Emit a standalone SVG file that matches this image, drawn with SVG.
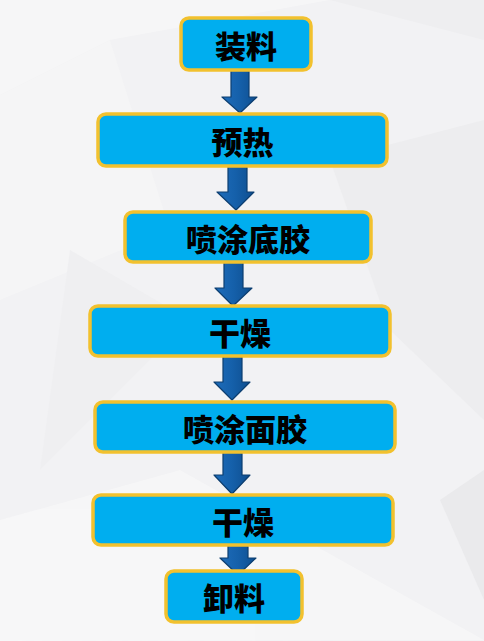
<svg xmlns="http://www.w3.org/2000/svg" width="484" height="641" viewBox="0 0 484 641">
<defs>
<linearGradient id="ag" x1="0" y1="0" x2="1" y2="0">
<stop offset="0" stop-color="#1E6CBA"/>
<stop offset="0.5" stop-color="#1560AA"/>
<stop offset="1" stop-color="#0E4E8F"/>
</linearGradient>
<style>
.box{fill:#00AEEF;stroke:#F2C12E;stroke-width:3.5}
.lbl{font-family:"Noto Sans CJK SC","Noto Sans",sans-serif;font-weight:900;font-size:31px;fill:#000;text-anchor:middle;dominant-baseline:central}
.arr{fill:url(#ag);stroke:#0C3E70;stroke-width:1.2;stroke-linejoin:round}
</style>
</defs>
<rect x="0" y="0" width="484" height="641" fill="#F2F2F4"/>
<g id="bg" opacity="0.9">
<polygon points="0,0 330,0 110,40 0,95" fill="#F7F7F8"/>
<polygon points="330,0 484,0 484,40" fill="#EEEEF0"/>
<polygon points="0,95 110,40 170,230 0,300" fill="#F6F6F7"/>
<polygon points="330,160 484,120 484,420 390,330" fill="#EDEDEF"/>
<polygon points="0,520 180,470 484,640 0,641" fill="#F7F7F8"/>
<polygon points="70,250 190,320 40,470" fill="#EFEFF1"/>
<polygon points="440,500 484,470 484,600" fill="#EAEAEC"/>
</g>
<g id="connectors">
<path class="arr" d="M231,70 H249 V97 H257 L240,113 L222,97 H231 Z"/>
<path class="arr" d="M228,166 H247 V192 H254 L236,210 L217,192 H228 Z"/>
<path class="arr" d="M224,262 H243 V288 H252 L233,306 L215,288 H224 Z"/>
<path class="arr" d="M223,356 H242 V382 H250 L232,400 L214,382 H223 Z"/>
<path class="arr" d="M223,452 H242 V475 H250 L232,494 L214,475 H223 Z"/>
<path class="arr" d="M228,545 H248 V558 H256 L238,575 L220,558 H228 Z"/>
</g>
<g id="n1"><rect class="box" x="181" y="18" width="130" height="52" rx="8"/><text class="lbl" x="246" y="44">装料</text></g>
<g id="n2"><rect class="box" x="98" y="114" width="289" height="52" rx="8"/><text class="lbl" x="242.5" y="140">预热</text></g>
<g id="n3"><rect class="box" x="125" y="212" width="246" height="50" rx="8"/><text class="lbl" x="248" y="237">喷涂底胶</text></g>
<g id="n4"><rect class="box" x="90" y="306" width="300" height="50" rx="8"/><text class="lbl" x="240" y="331">干燥</text></g>
<g id="n5"><rect class="box" x="95" y="402" width="300" height="50" rx="8"/><text class="lbl" x="245" y="427">喷涂面胶</text></g>
<g id="n6"><rect class="box" x="93" y="495" width="300" height="50" rx="8"/><text class="lbl" x="243" y="520">干燥</text></g>
<g id="n7"><rect class="box" x="166" y="571" width="136" height="51" rx="8"/><text class="lbl" x="234" y="596.5">卸料</text></g>
</svg>
